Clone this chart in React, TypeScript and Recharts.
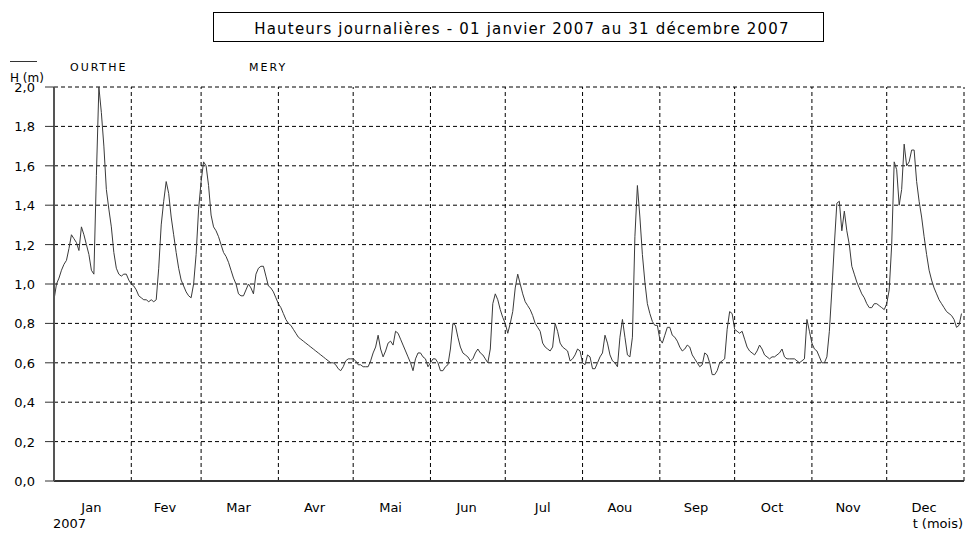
import React from 'react';
import { LineChart, Line, XAxis, YAxis, CartesianGrid, ReferenceLine } from 'recharts';

const monthLabels = ['Jan', 'Fev', 'Mar', 'Avr', 'Mai', 'Jun', 'Jul', 'Aou', 'Sep', 'Oct', 'Nov', 'Dec'];

const jan = [0.92, 1.0, 1.03, 1.07, 1.1, 1.12, 1.18, 1.25, 1.23, 1.21, 1.17, 1.29, 1.25, 1.2, 1.15, 1.07, 1.05, 1.55, 2.0, 1.87, 1.7, 1.48, 1.38, 1.29, 1.16, 1.08, 1.05, 1.04, 1.05, 1.05, 1.02];
const feb = [1.0, 0.99, 0.97, 0.94, 0.93, 0.92, 0.92, 0.91, 0.92, 0.91, 0.92, 1.08, 1.3, 1.42, 1.52, 1.46, 1.34, 1.25, 1.16, 1.08, 1.02, 0.99, 0.96, 0.94, 0.93, 1.0, 1.15, 1.38];
const mar = [1.52, 1.62, 1.6, 1.5, 1.35, 1.29, 1.27, 1.24, 1.2, 1.16, 1.14, 1.11, 1.07, 1.03, 1.0, 0.95, 0.94, 0.94, 0.97, 1.0, 0.98, 0.95, 1.05, 1.08, 1.09, 1.09, 1.04, 0.99, 0.98, 0.96, 0.93];
const apr = [0.9, 0.88, 0.85, 0.82, 0.8, 0.79, 0.77, 0.75, 0.73, 0.72, 0.71, 0.7, 0.69, 0.68, 0.67, 0.66, 0.65, 0.64, 0.63, 0.62, 0.61, 0.6, 0.6, 0.59, 0.57, 0.56, 0.58, 0.61, 0.62, 0.62];
const may = [0.62, 0.61, 0.59, 0.59, 0.58, 0.58, 0.58, 0.61, 0.65, 0.68, 0.74, 0.67, 0.63, 0.66, 0.7, 0.71, 0.69, 0.76, 0.75, 0.72, 0.69, 0.66, 0.63, 0.6, 0.56, 0.62, 0.65, 0.65, 0.63, 0.62, 0.58];
const jun = [0.6, 0.62, 0.62, 0.6, 0.56, 0.56, 0.58, 0.59, 0.67, 0.8, 0.79, 0.73, 0.68, 0.65, 0.64, 0.63, 0.61, 0.62, 0.65, 0.67, 0.65, 0.64, 0.62, 0.6, 0.67, 0.9, 0.95, 0.92, 0.87, 0.83];
const jul = [0.8, 0.75, 0.8, 0.86, 0.98, 1.05, 1.0, 0.95, 0.91, 0.89, 0.87, 0.84, 0.8, 0.78, 0.76, 0.7, 0.68, 0.67, 0.66, 0.68, 0.8, 0.76, 0.7, 0.68, 0.67, 0.66, 0.61, 0.62, 0.64, 0.67, 0.66];
const aug = [0.6, 0.59, 0.64, 0.63, 0.57, 0.57, 0.6, 0.63, 0.65, 0.74, 0.7, 0.64, 0.61, 0.6, 0.58, 0.73, 0.82, 0.73, 0.64, 0.63, 0.73, 1.24, 1.5, 1.34, 1.15, 1.01, 0.9, 0.85, 0.81, 0.79, 0.79];
const sep = [0.72, 0.7, 0.74, 0.78, 0.78, 0.74, 0.73, 0.71, 0.68, 0.66, 0.67, 0.69, 0.68, 0.64, 0.62, 0.6, 0.58, 0.59, 0.65, 0.64, 0.6, 0.54, 0.54, 0.56, 0.6, 0.61, 0.62, 0.77, 0.86, 0.85];
const oct = [0.77, 0.76, 0.75, 0.76, 0.72, 0.68, 0.66, 0.65, 0.64, 0.66, 0.69, 0.67, 0.64, 0.63, 0.62, 0.63, 0.63, 0.64, 0.65, 0.67, 0.63, 0.62, 0.62, 0.62, 0.62, 0.61, 0.6, 0.61, 0.62, 0.82, 0.76];
const nov = [0.7, 0.67, 0.66, 0.63, 0.6, 0.6, 0.63, 0.76, 0.97, 1.2, 1.41, 1.42, 1.27, 1.37, 1.27, 1.2, 1.09, 1.05, 1.01, 0.98, 0.95, 0.93, 0.9, 0.88, 0.88, 0.9, 0.9, 0.89, 0.88, 0.87];
const dec = [0.9, 0.97, 1.2, 1.62, 1.58, 1.4, 1.48, 1.71, 1.6, 1.62, 1.68, 1.68, 1.52, 1.42, 1.34, 1.24, 1.15, 1.07, 1.02, 0.98, 0.95, 0.92, 0.9, 0.88, 0.86, 0.85, 0.84, 0.82, 0.78, 0.79, 0.85];

const yTicks = [0, 0.2, 0.4, 0.6, 0.8, 1.0, 1.2, 1.4, 1.6, 1.8, 2.0];

const months = [jan, feb, mar, apr, may, jun, jul, aug, sep, oct, nov, dec];
const data: { d: number; h: number }[] = [];
const monthStarts: number[] = [];
let dayCount = 0;
months.forEach((m) => {
  monthStarts.push(dayCount);
  m.forEach((v) => {
    data.push({ d: dayCount, h: v });
    dayCount++;
  });
});
const monthEnds = monthStarts.slice(1).concat([dayCount]);
const labelTicks = months.map((m, i) => monthStarts[i] + (m.length - 1) / 2);

const FONT = '"DejaVu Sans", Verdana, sans-serif';

const XTick = (props: any) => {
  const { x, y, payload } = props;
  const idx = labelTicks.indexOf(payload.value);
  return (
    <text x={x} y={y + 31} textAnchor="middle" fontFamily={FONT} fontSize={13} fill="#000">
      {monthLabels[idx]}
    </text>
  );
};

const YTick = (props: any) => {
  const { x, y, payload } = props;
  return (
    <text x={x} y={y + 5} textAnchor="end" fontFamily={FONT} fontSize={13} fill="#000">
      {payload.value.toFixed(1).replace('.', ',')}
    </text>
  );
};

export default function App() {
  return (
    <div style={{ position: 'absolute', left: 0, top: 0, width: 965, height: 533, background: '#fff' }}>
      <LineChart width={965} height={533} data={data} margin={{ top: 87, right: 1, bottom: 0, left: 0 }}>
        <CartesianGrid vertical={false} stroke="#000" strokeDasharray="4 3" />
        {monthEnds.map((e) => (
          <ReferenceLine key={e} x={e} stroke="#000" strokeDasharray="4 3" ifOverflow="visible" />
        ))}
        <XAxis
          dataKey="d"
          type="number"
          domain={[0, 365]}
          ticks={labelTicks}
          interval={0}
          tick={<XTick />}
          tickLine={false}
          tickSize={0}
          tickMargin={0}
          height={52}
          axisLine={{ stroke: '#333', strokeWidth: 2 }}
          allowDataOverflow
        />
        <YAxis
          domain={[0, 2]}
          ticks={yTicks}
          interval={0}
          width={54}
          tick={<YTick />}
          tickSize={9}
          tickMargin={10}
          tickLine={{ stroke: '#333' }}
          axisLine={{ stroke: '#555', strokeWidth: 2 }}
        />
        <Line
          type="linear"
          dataKey="h"
          stroke="#3a3a3a"
          strokeWidth={1}
          dot={false}
          isAnimationActive={false}
        />
      </LineChart>
      <svg
        width={965}
        height={533}
        style={{ position: 'absolute', left: 0, top: 0, pointerEvents: 'none' }}
      >
        <rect x={213.5} y={12.5} width={610} height={29} fill="#fff" stroke="#000" strokeWidth={1} />
        <text x={522} y={34} textAnchor="middle" fontFamily={FONT} fontSize={15} letterSpacing={1.2} fill="#000">
          Hauteurs journalières - 01 janvier 2007 au 31 décembre 2007
        </text>
        <line x1={10} y1={61.5} x2={37} y2={61.5} stroke="#333" strokeWidth={1} />
        <text x={70} y={70.5} fontFamily={FONT} fontSize={11} letterSpacing={2} fill="#000">
          OURTHE
        </text>
        <text x={249} y={70.5} fontFamily={FONT} fontSize={11} letterSpacing={2} fill="#000">
          MERY
        </text>
        <text x={10} y={81.5} fontFamily={FONT} fontSize={12} fill="#000">
          H (m)
        </text>
        <text x={53} y={528} fontFamily={FONT} fontSize={13} fill="#000">
          2007
        </text>
        <text x={963} y={528} textAnchor="end" fontFamily={FONT} fontSize={13} fill="#000">
          t (mois)
        </text>
      </svg>
    </div>
  );
}
